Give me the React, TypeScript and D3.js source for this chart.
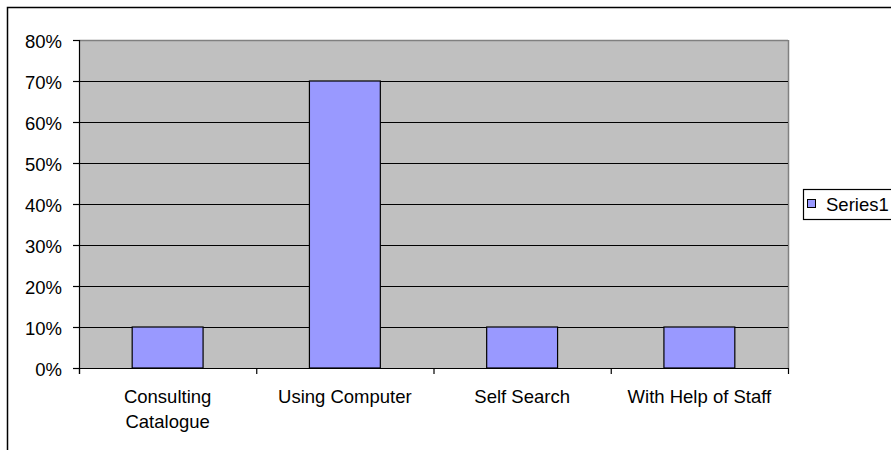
import React from "react";
import * as d3 from "d3";

const categories: string[][] = [
  ["Consulting", "Catalogue"],
  ["Using Computer"],
  ["Self Search"],
  ["With Help of Staff"],
];
const series1: number[] = [0.1, 0.7, 0.1, 0.1];
const yTicks: number[] = [0, 0.1, 0.2, 0.3, 0.4, 0.5, 0.6, 0.7, 0.8];
const seriesName = "Series1";

const W = 891;
const H = 450;
const plot = { left: 79, right: 788, top: 40, bottom: 368 };
const FONT = "'Liberation Sans', Arial, sans-serif";
const FS = 18.5;

export default function App() {
  const keys = categories.map((c) => c.join(" "));
  const x = d3
    .scaleBand<string>()
    .domain(keys)
    .range([plot.left, plot.right])
    .paddingInner(0)
    .paddingOuter(0);
  const bw = x.bandwidth();
  const barW = bw / 2.5;
  const y = d3.scaleLinear().domain([0, 0.8]).range([plot.bottom, plot.top]);
  const fmt = d3.format(".0%");
  const boundaries = d3.range(keys.length + 1).map((i) => plot.left + i * bw);

  return (
    <svg
      width={W}
      height={H}
      style={{ position: "absolute", left: 0, top: 0, background: "#fff" }}
      fontFamily={FONT}
      fontSize={FS}
    >
      <rect x={0} y={0} width={W} height={H} fill="#fff" />
      {/* chart frame */}
      <rect x={7.5} y={7.5} width={1000} height={1000} fill="none" stroke="#000" strokeWidth={1.5} />

      {/* plot area */}
      <rect
        x={plot.left}
        y={plot.top}
        width={plot.right - plot.left}
        height={plot.bottom - plot.top}
        fill="#C0C0C0"
      />
      <line x1={plot.left} x2={plot.right} y1={plot.top + 0.5} y2={plot.top + 0.5} stroke="#808080" strokeWidth={1.5} />
      <line x1={plot.right + 0.5} x2={plot.right + 0.5} y1={plot.top} y2={plot.bottom} stroke="#808080" strokeWidth={1.5} />

      {/* gridlines */}
      {yTicks
        .filter((t) => t > 0 && t < 0.8)
        .map((t) => (
          <line
            key={t}
            x1={plot.left}
            x2={plot.right}
            y1={Math.round(y(t)) + 0.5}
            y2={Math.round(y(t)) + 0.5}
            stroke="#000"
            strokeWidth={1}
          />
        ))}

      {/* bars */}
      {series1.map((v, i) => (
        <rect
          key={keys[i]}
          x={(x(keys[i]) as number) + (bw - barW) / 2}
          y={y(v)}
          width={barW}
          height={y(0) - y(v)}
          fill="#9999FF"
          stroke="#000"
          strokeWidth={1.2}
        />
      ))}

      {/* y axis */}
      <line x1={plot.left + 0.5} x2={plot.left + 0.5} y1={plot.top} y2={plot.bottom + 6} stroke="#000" strokeWidth={1.2} />
      {yTicks.map((t) => (
        <g key={t}>
          <line x1={plot.left - 6} x2={plot.left} y1={Math.round(y(t)) + 0.5} y2={Math.round(y(t)) + 0.5} stroke="#000" strokeWidth={1.2} />
          <text x={62} y={y(t) + 7.5} textAnchor="end" fill="#000">
            {fmt(t)}
          </text>
        </g>
      ))}

      {/* x axis */}
      <line x1={plot.left} x2={plot.right + 1} y1={plot.bottom + 0.5} y2={plot.bottom + 0.5} stroke="#000" strokeWidth={1.2} />
      {boundaries.map((bx, i) => (
        <line key={i} x1={bx + 0.5} x2={bx + 0.5} y1={plot.bottom} y2={plot.bottom + 6} stroke="#000" strokeWidth={1.2} />
      ))}
      {categories.map((lines, i) => (
        <text
          key={keys[i]}
          x={(x(keys[i]) as number) + bw / 2}
          y={403}
          textAnchor="middle"
          fill="#000"
        >
          {lines.map((l, j) => (
            <tspan key={j} x={(x(keys[i]) as number) + bw / 2} dy={j === 0 ? 0 : 25}>
              {l}
            </tspan>
          ))}
        </text>
      ))}

      {/* legend */}
      <rect x={803.5} y={189.5} width={120} height={30} fill="#fff" stroke="#000" strokeWidth={1.2} />
      <rect x={807.5} y={199.5} width={8} height={8} fill="#9999FF" stroke="#000" strokeWidth={1} />
      <text x={826} y={211} fill="#000">
        {seriesName}
      </text>
    </svg>
  );
}
